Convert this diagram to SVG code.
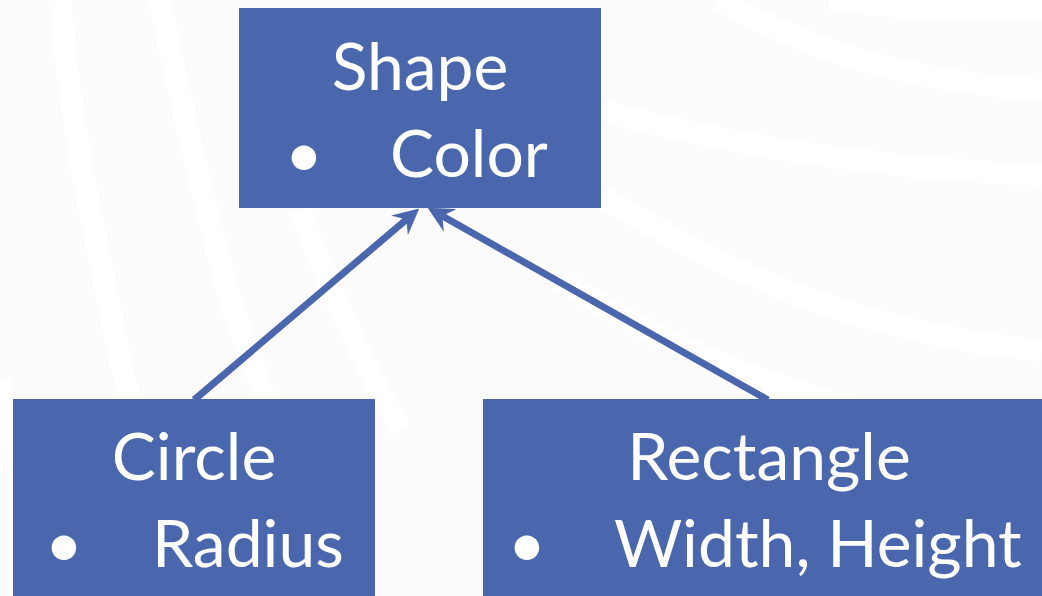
<svg xmlns="http://www.w3.org/2000/svg" width="1042" height="596" viewBox="0 0 1042 596">
  <style>
    .box { fill: #4A67AE; }
    .lbl { font-family: Lato, "Noto Sans", "Liberation Sans", sans-serif; font-size: 66px; fill: #FFFFFF; }
    .mid { text-anchor: middle; }
    .band { fill: none; stroke: #FFFFFF; stroke-width: 22; }
    .edge { fill: none; stroke: #4A67AE; stroke-width: 7; marker-end: url(#head); }
  </style>
  <defs>
    <marker id="head" markerUnits="userSpaceOnUse" markerWidth="28" markerHeight="30" viewBox="0 -15 28 30" refX="9" refY="0" orient="auto">
      <path d="M26,0 L0,-13 L9,0 L0,13 Z" fill="#4A67AE"/>
    </marker>
  </defs>

  <!-- soft background with faint light sweeping bands -->
  <rect width="1042" height="596" fill="#FCFCFC"/>
  <g id="background-bands">
    <path class="band" d="M 60,0 Q 70,120 100,260 Q 130,420 180,596"/>
    <path class="band" d="M 160,0 Q 190,150 230,300 Q 280,450 350,596"/>
    <path class="band" d="M 300,210 Q 340,320 400,430"/>
    <path class="band" d="M 720,0 Q 860,80 1042,90"/>
    <path class="band" d="M 830,0 Q 930,12 1042,10"/>
    <path class="band" d="M 600,110 Q 800,165 1042,175"/>
    <path class="band" d="M 600,195 Q 720,270 840,310 Q 960,345 1042,350"/>
    <path class="band" d="M 560,280 Q 720,380 900,420"/>
    <path class="band" d="M 0,380 Q 20,480 40,596"/>
  </g>

  <g id="connectors">
    <path class="edge" d="M 194,400 L 406.3,219.6"/>
    <path class="edge" d="M 768,400 L 442.4,216"/>
  </g>

  <g id="node-shape">
    <rect class="box" x="239" y="8" width="362" height="200"/>
    <text class="lbl mid" x="420" y="90">Shape</text>
    <text class="lbl mid" x="304" y="177">•</text>
    <text class="lbl" x="390" y="177">Color</text>
  </g>

  <g id="node-circle">
    <rect class="box" x="13" y="399" width="362" height="210"/>
    <text class="lbl mid" x="194" y="480">Circle</text>
    <text class="lbl mid" x="64" y="567">•</text>
    <text class="lbl" x="152" y="567">Radius</text>
  </g>

  <g id="node-rectangle">
    <rect class="box" x="483" y="399" width="580" height="210"/>
    <text class="lbl mid" x="769" y="480">Rectangle</text>
    <text class="lbl mid" x="527" y="567">•</text>
    <text class="lbl" x="614" y="567">Width, Height</text>
  </g>
</svg>
